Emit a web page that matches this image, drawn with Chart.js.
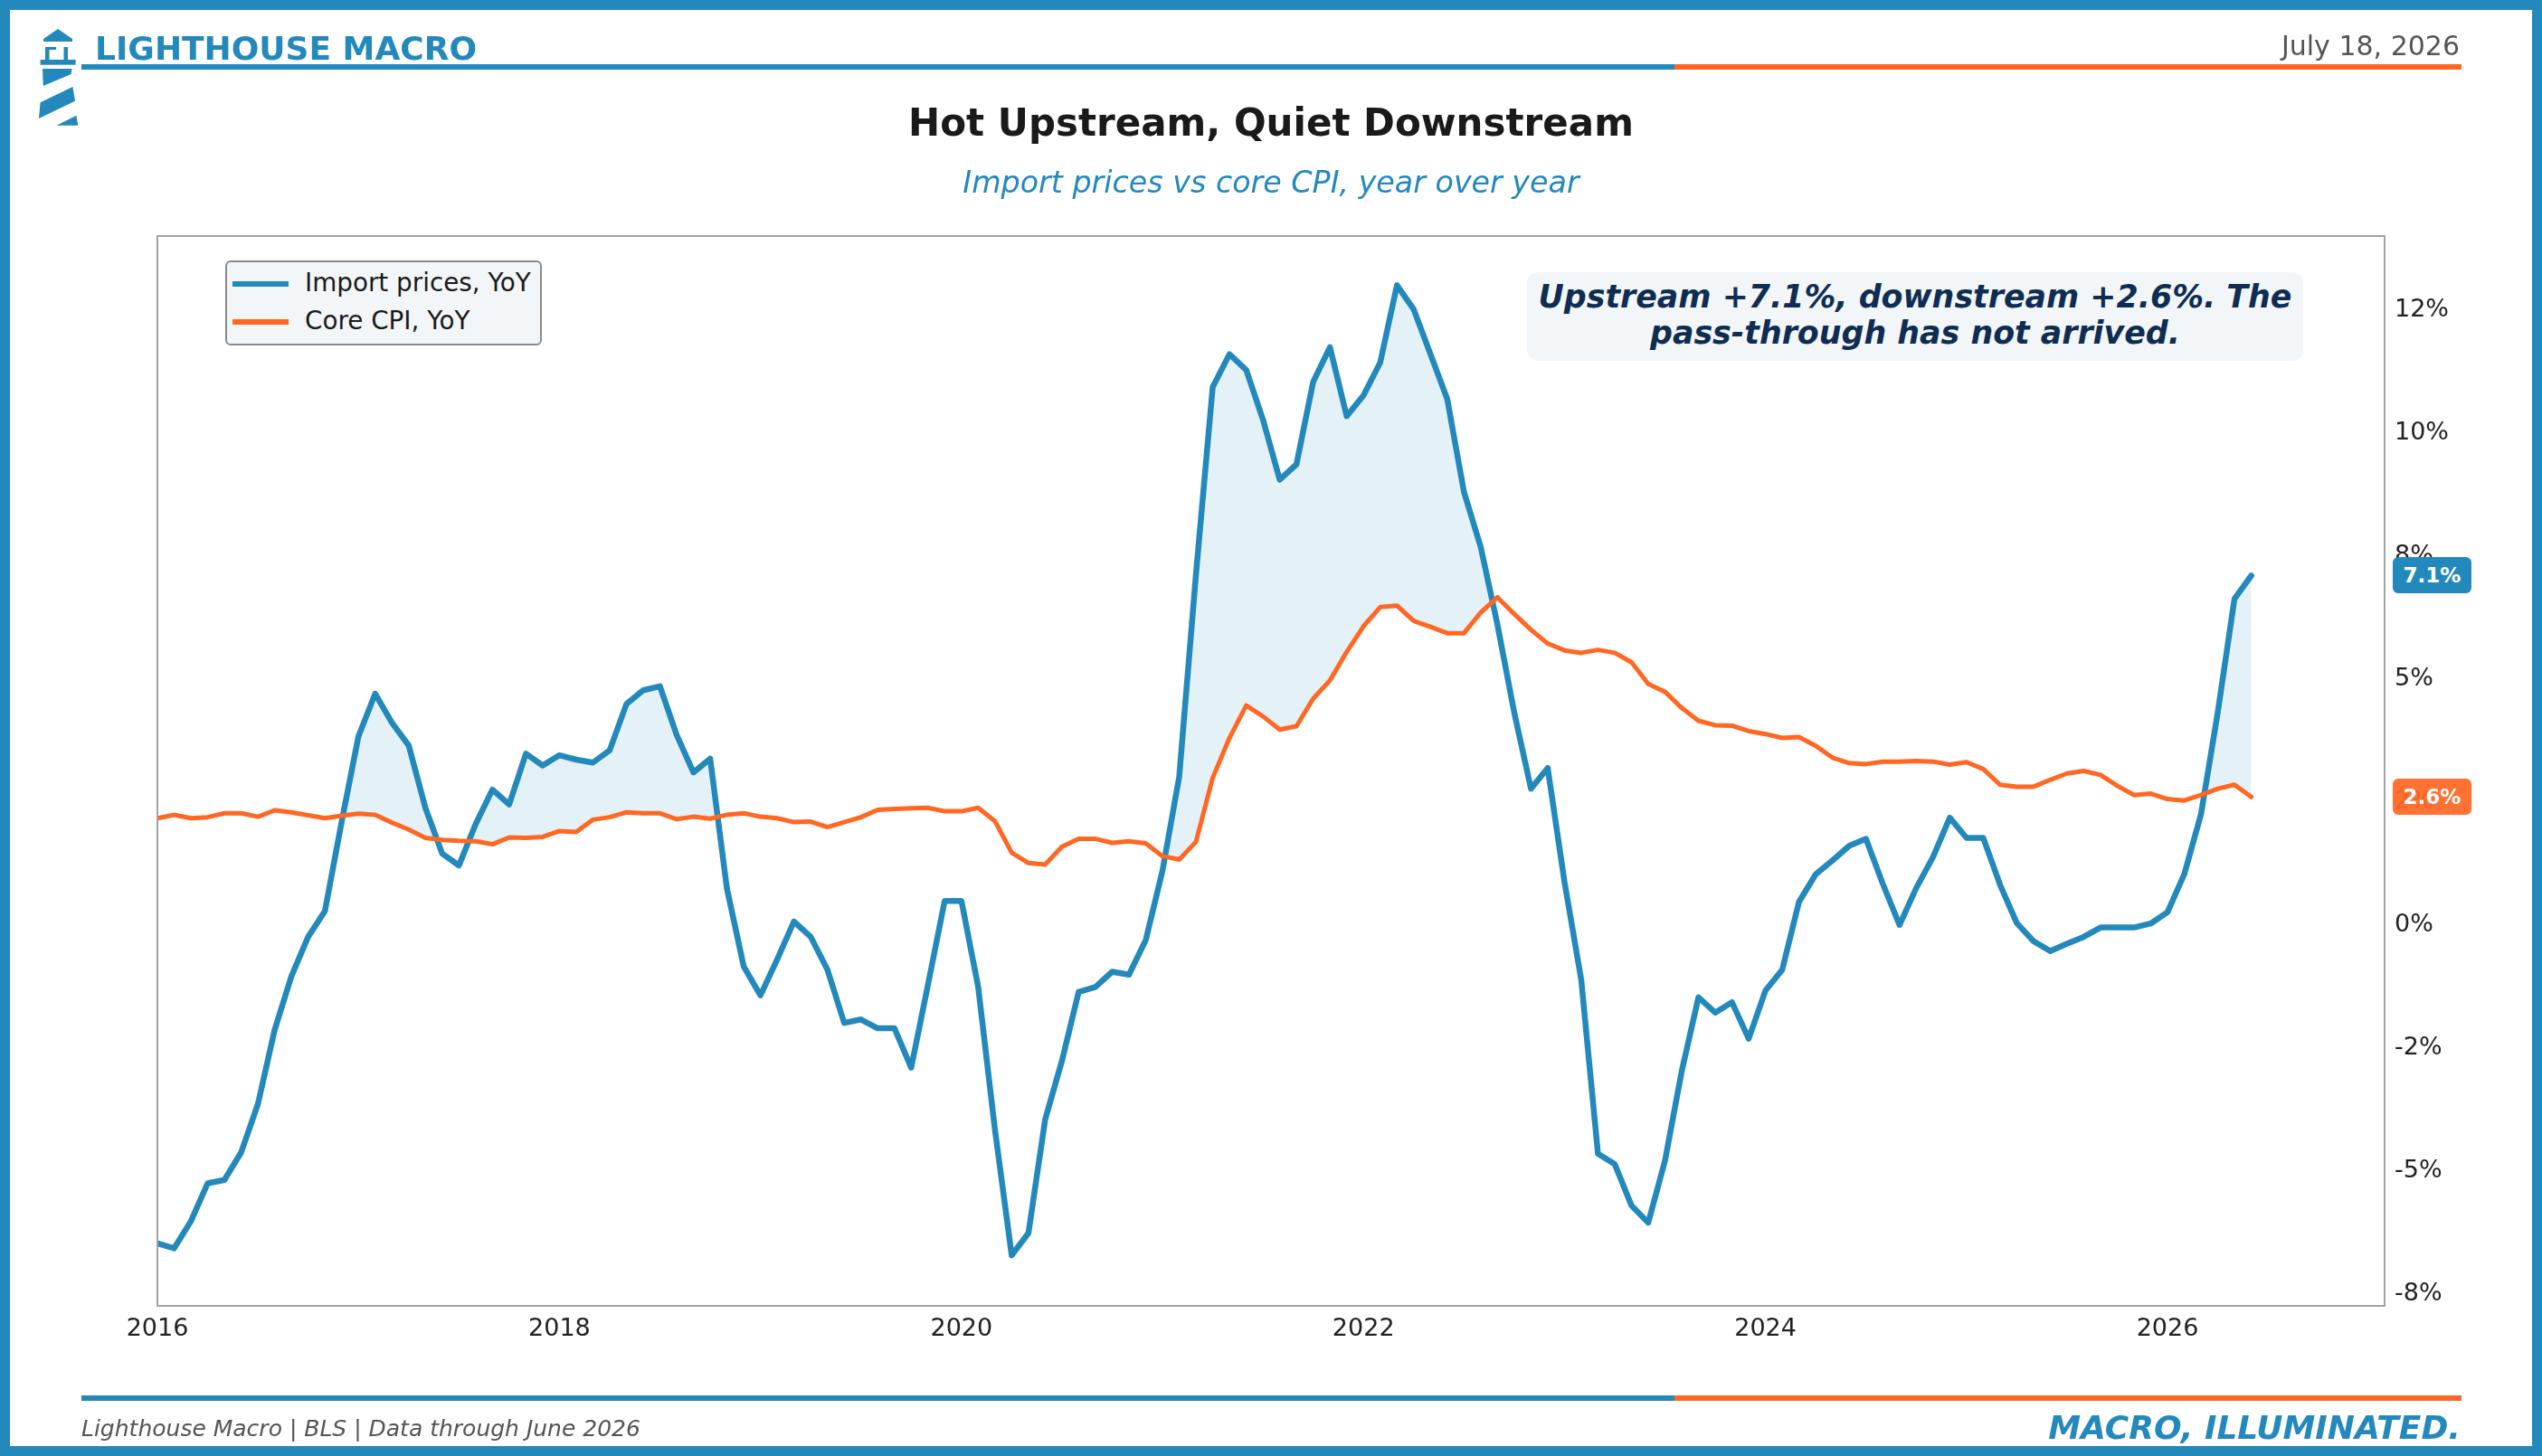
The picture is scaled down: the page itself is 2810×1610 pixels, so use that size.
<!DOCTYPE html>
<html>
<head>
<meta charset="utf-8">
<script src="https://cdn.jsdelivr.net/npm/chart.js@4.4.1/dist/chart.umd.min.js"></script>
<style>
  html, body { margin:0; padding:0; background:#fff; }
  #page { position:relative; width:2810px; height:1610px; overflow:hidden; font-family:'DejaVu Sans', sans-serif; }
  #frame { position:absolute; left:0; top:0; width:2810px; height:1610px; box-sizing:border-box; border:11px solid #2389bc; pointer-events:none; z-index:5; }
  .abs { position:absolute; white-space:nowrap; }
  #brand { left:105px; top:30px; font-size:36px; font-weight:bold; color:#2389bc; line-height:48px; }
  #date { right:91px; top:31px; font-size:30px; color:#555; line-height:40px; }
  #title { left:0; width:2810px; text-align:center; top:110px; font-size:42px; font-weight:bold; color:#1a1a1a; line-height:52px; }
  #subtitle { left:0; width:2810px; text-align:center; top:180px; font-size:33.3px; font-style:italic; color:#2389bc; line-height:44px; }
  .bar { position:absolute; height:6px; }
  #footL { left:90px; top:1563px; font-size:25px; font-style:italic; color:#555; line-height:34px; }
  #footR { right:90px; top:1557px; font-size:36px; font-style:italic; font-weight:bold; color:#2389bc; line-height:44px; }
  #legend { left:249px; top:288px; width:350px; height:94px; box-sizing:border-box; border:2px solid #8a8a8a; border-radius:6px; background:#f3f6f9; z-index:3; }
  .lrow { position:absolute; left:0; height:36px; width:100%; }
  .lsw { position:absolute; left:6px; top:15px; width:62px; height:6px; }
  .ltx { position:absolute; left:86px; top:-1px; font-size:27.8px; color:#1a1a1a; line-height:36px; }
  #note { left:1688px; top:301px; width:858px; height:98px; border-radius:12px; background:#f2f6f9; text-align:center; font-size:34.8px; font-weight:bold; font-style:italic; color:#0f2d52; line-height:40px; padding-top:7px; box-sizing:border-box; z-index:3; }
  .badge { position:absolute; left:2645px; width:87px; height:40px; border-radius:6px; color:#fff; font-size:23px; font-weight:bold; text-align:center; line-height:40px; z-index:4; }
  #chartWrap { position:absolute; left:0; top:0; width:2810px; height:1610px; }
</style>
</head>
<body>
<div id="page">
  <div id="chartWrap"><canvas id="c" width="2810" height="1610"></canvas></div>

  <svg class="abs" style="left:0;top:0;" width="100" height="150" viewBox="0 0 100 150">
    <g fill="#2389bc">
      <polygon points="48,43 64,32 80,43 80,46 48,46"/>
      <rect x="50" y="52" width="4.5" height="15"/>
      <rect x="70.5" y="52" width="4.5" height="15"/>
      <rect x="50" y="52" width="12" height="3"/>
      <rect x="44.6" y="66" width="39" height="5.7"/>
      <polygon points="47,76 79.5,76 78.6,82 47.8,95"/>
      <polygon points="80.4,96 83,111.7 42.9,131 44.6,113.3"/>
      <polygon points="62.5,138.8 84.4,127.7 86.2,138.8"/>
    </g>
  </svg>
  <div id="brand" class="abs">LIGHTHOUSE MACRO</div>
  <div id="date" class="abs">July 18, 2026</div>
  <div class="bar" style="left:90px;top:71px;width:1761px;background:#2389bc;"></div>
  <div class="bar" style="left:1851px;top:71px;width:870px;background:#ff6723;"></div>

  <div id="title" class="abs">Hot Upstream, Quiet Downstream</div>
  <div id="subtitle" class="abs">Import prices vs core CPI, year over year</div>

  <div id="legend" class="abs">
    <div class="lrow" style="top:6px;"><div class="lsw" style="background:#2389bc;"></div><div class="ltx">Import prices, YoY</div></div>
    <div class="lrow" style="top:48px;"><div class="lsw" style="background:#ff6723;"></div><div class="ltx">Core CPI, YoY</div></div>
  </div>

  <div id="note" class="abs">Upstream +7.1%, downstream +2.6%. The<br>pass-through has not arrived.</div>

  <div id="badgeImp" class="badge" style="background:#2389bc;">7.1%</div>
  <div id="badgeCore" class="badge" style="background:rgba(255,103,35,0.93);">2.6%</div>

  <div class="bar" style="left:90px;top:1543px;width:1761px;background:#2389bc;"></div>
  <div class="bar" style="left:1851px;top:1543px;width:870px;background:#ff6723;"></div>
  <div id="footL" class="abs">Lighthouse Macro | BLS | Data through June 2026</div>
  <div id="footR" class="abs">MACRO, ILLUMINATED.</div>

  <div id="frame"></div>
</div>

<script>
// ---- Data (monthly, Jan 2016 – Jun 2026) ----
const months = [
 '2016-01','2016-02','2016-03','2016-04','2016-05','2016-06','2016-07','2016-08','2016-09','2016-10','2016-11','2016-12',
 '2017-01','2017-02','2017-03','2017-04','2017-05','2017-06','2017-07','2017-08','2017-09','2017-10','2017-11','2017-12',
 '2018-01','2018-02','2018-03','2018-04','2018-05','2018-06','2018-07','2018-08','2018-09','2018-10','2018-11','2018-12',
 '2019-01','2019-02','2019-03','2019-04','2019-05','2019-06','2019-07','2019-08','2019-09','2019-10','2019-11','2019-12',
 '2020-01','2020-02','2020-03','2020-04','2020-05','2020-06','2020-07','2020-08','2020-09','2020-10','2020-11','2020-12',
 '2021-01','2021-02','2021-03','2021-04','2021-05','2021-06','2021-07','2021-08','2021-09','2021-10','2021-11','2021-12',
 '2022-01','2022-02','2022-03','2022-04','2022-05','2022-06','2022-07','2022-08','2022-09','2022-10','2022-11','2022-12',
 '2023-01','2023-02','2023-03','2023-04','2023-05','2023-06','2023-07','2023-08','2023-09','2023-10','2023-11','2023-12',
 '2024-01','2024-02','2024-03','2024-04','2024-05','2024-06','2024-07','2024-08','2024-09','2024-10','2024-11','2024-12',
 '2025-01','2025-02','2025-03','2025-04','2025-05','2025-06','2025-07','2025-08','2025-09','2025-10','2025-11','2025-12',
 '2026-01','2026-02','2026-03','2026-04','2026-05','2026-06'
];

const importYoY = [
 -6.47,-6.57,-6.02,-5.25,-5.18,-4.62,-3.64,-2.13,-1.04,-0.24,0.28,2.10,
 3.83,4.70,4.11,3.65,2.38,1.45,1.21,2.05,2.75,2.45,3.48,3.24,
 3.45,3.36,3.30,3.55,4.49,4.77,4.85,3.86,3.10,3.38,0.74,-0.84,
 -1.43,-0.70,0.07,-0.24,-0.91,-1.99,-1.92,-2.10,-2.10,-2.90,-1.22,0.49,
 0.49,-1.26,-4.16,-6.71,-6.26,-3.95,-2.76,-1.36,-1.26,-0.95,-1.01,-0.31,
 1.10,3.01,7.12,10.93,11.60,11.28,10.27,9.05,9.36,11.04,11.74,10.34,
 10.76,11.43,13.00,12.51,11.60,10.69,8.80,7.68,6.10,4.32,2.77,3.19,
 0.88,-1.11,-4.65,-4.86,-5.70,-6.05,-4.79,-2.97,-1.47,-1.78,-1.57,-2.31,
 -1.33,-0.91,0.47,1.03,1.31,1.61,1.75,0.84,0.00,0.75,1.38,2.18,
 1.77,1.77,0.82,0.04,-0.33,-0.53,-0.38,-0.24,-0.05,-0.05,-0.05,0.03,
 0.26,1.03,2.25,4.32,6.63,7.10
];

const coreCPI = [
 2.17,2.24,2.17,2.19,2.27,2.27,2.20,2.33,2.29,2.23,2.17,2.22,
 2.26,2.24,2.08,1.94,1.77,1.73,1.71,1.70,1.64,1.78,1.77,1.79,
 1.91,1.89,2.14,2.19,2.29,2.27,2.27,2.15,2.20,2.16,2.24,2.27,
 2.20,2.17,2.09,2.10,1.99,2.09,2.19,2.34,2.36,2.37,2.38,2.31,
 2.31,2.38,2.11,1.47,1.26,1.23,1.59,1.75,1.75,1.67,1.70,1.66,
 1.40,1.33,1.69,2.99,3.80,4.46,4.24,3.97,4.04,4.60,4.97,5.55,
 6.07,6.46,6.49,6.18,6.06,5.93,5.93,6.35,6.66,6.32,6.00,5.72,
 5.58,5.53,5.59,5.53,5.34,4.90,4.74,4.41,4.15,4.06,4.05,3.94,
 3.88,3.80,3.82,3.64,3.40,3.29,3.27,3.32,3.32,3.33,3.32,3.26,
 3.31,3.17,2.85,2.81,2.81,2.95,3.08,3.13,3.05,2.83,2.64,2.67,
 2.56,2.53,2.64,2.77,2.85,2.60
];

const xTickYears = [2016, 2018, 2020, 2022, 2024, 2026];
const yTickValues = [-7.5, -5, -2.5, 0, 2.5, 5, 7.5, 10, 12.5];

// ---- Build ----
const xs = months.map(s => { const [y, m] = s.split('-').map(Number); return y + (m - 1) / 12; });
const impPts = importYoY.map((v, i) => ({ x: xs[i], y: v }));
const corePts = coreCPI.map((v, i) => ({ x: xs[i], y: v }));

function pctLabel(v) {
  let r = Math.round(v);
  if (Math.abs(Math.abs(v % 1) - 0.5) < 1e-9) r = 2 * Math.round(v / 2); // round half to even
  return r + '%';
}

const W = 2810, H = 1610;
const area = { left: 174, top: 261, right: 2636, bottom: 1444 };

const framePlugin = {
  id: 'frame',
  afterDraw(chart) {
    const { ctx, chartArea: a } = chart;
    ctx.save();
    ctx.strokeStyle = '#a3a3a3';
    ctx.lineWidth = 2;
    ctx.strokeRect(a.left, a.top, a.right - a.left, a.bottom - a.top);
    ctx.restore();
  },
  afterRender(chart) {
    const ys = chart.scales.y;
    const bi = document.getElementById('badgeImp');
    const bc = document.getElementById('badgeCore');
    bi.style.top = (ys.getPixelForValue(importYoY[importYoY.length - 1]) - 20) + 'px';
    bc.style.top = (ys.getPixelForValue(coreCPI[coreCPI.length - 1]) - 20) + 'px';
  }
};

new Chart(document.getElementById('c'), {
  type: 'line',
  data: {
    datasets: [
      {
        label: 'Import prices, YoY',
        data: impPts,
        borderColor: '#2389bc',
        borderWidth: 6.5,
        pointRadius: 0,
        tension: 0,
        borderJoinStyle: 'round',
        borderCapStyle: 'round',
        fill: { target: 1, above: 'rgba(35,137,188,0.12)', below: 'rgba(0,0,0,0)' },
        order: 2
      },
      {
        label: 'Core CPI, YoY',
        data: corePts,
        borderColor: '#ff6723',
        borderWidth: 5,
        pointRadius: 0,
        tension: 0,
        borderJoinStyle: 'round',
        borderCapStyle: 'round',
        fill: false,
        order: 1
      }
    ]
  },
  options: {
    responsive: false,
    animation: false,
    devicePixelRatio: 1,
    layout: { padding: { left: area.left, top: area.top, right: 0, bottom: 0 } },
    plugins: { legend: { display: false }, tooltip: { enabled: false }, filler: { propagate: false } },
    scales: {
      x: {
        type: 'linear',
        min: 2016,
        max: 2027.08,
        grid: { display: false, drawTicks: false },
        border: { display: false },
        afterBuildTicks(scale) { scale.ticks = xTickYears.map(v => ({ value: v })); },
        afterFit(scale) { scale.height = H - area.bottom; },
        ticks: {
          autoSkip: false,
          maxRotation: 0,
          padding: 10,
          color: '#222',
          font: { family: 'DejaVu Sans', size: 27 },
          callback: v => String(v)
        }
      },
      y: {
        type: 'linear',
        position: 'right',
        min: -7.74,
        max: 14.0,
        grid: { display: false, drawTicks: false },
        border: { display: false },
        afterBuildTicks(scale) { scale.ticks = yTickValues.map(v => ({ value: v })); },
        afterFit(scale) { scale.width = W - area.right; },
        ticks: {
          autoSkip: false,
          padding: 11,
          color: '#222',
          font: { family: 'DejaVu Sans', size: 27 },
          callback: v => pctLabel(v)
        }
      }
    }
  },
  plugins: [framePlugin]
});
</script>
</body>
</html>
